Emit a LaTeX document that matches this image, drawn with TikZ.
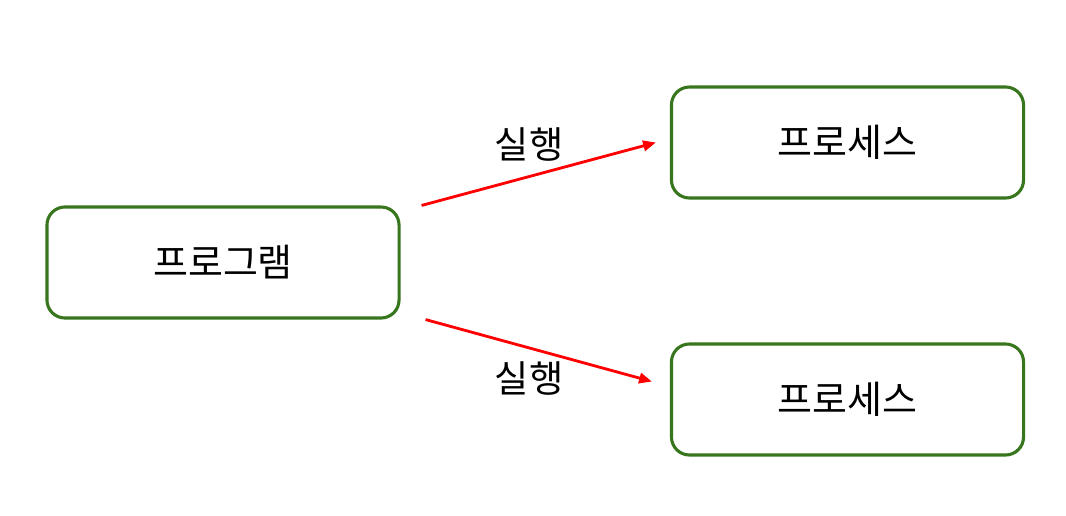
\documentclass[tikz,border=0pt]{standalone}
\usepackage{fontspec}
\setmainfont{Noto Sans CJK KR}
\usepackage{tikz}
\usetikzlibrary{arrows.meta,positioning,calc}
\definecolor{boxgreen}{RGB}{56,118,29}
\definecolor{runred}{RGB}{255,0,0}

\begin{document}
\begin{tikzpicture}[x=0.025cm,y=-0.025cm,
    box/.style={draw=boxgreen,line width=2.2pt,rounded corners=0.45cm,
                minimum width=8.8cm,minimum height=2.775cm,
                font=\fontsize{27}{32}\selectfont,text centered,fill=white},
    arr/.style={-{Triangle[length=0.32cm,width=0.26cm]},line width=2pt,runred},
    lbl/.style={font=\fontsize{26.5}{31}\selectfont},
  ]
    \useasboundingbox (0,0) rectangle (1066,515);
    \node[box](prog) at (223,262.5){프로그램};
    \node[box](proc1) at (847.5,142.5){프로세스};
    \node[box](proc2) at (847.5,399.5){프로세스};
    \coordinate (s1) at ($(prog.north east)+(21,0)$);
    \coordinate (e1) at ($(proc1.west)+(-14,0)$);
    \coordinate (s2) at ($(prog.south east)+(25,0)$);
    \coordinate (e2) at ($(proc2.west)+(-18,-18)$);
    \draw[arr](s1)--(e1);
    \draw[arr](s2)--(e2);
    \node[lbl](run1) at (529,145){실행};
    \node[lbl](run2) at (529,378){실행};
  \end{tikzpicture}
\end{document}
